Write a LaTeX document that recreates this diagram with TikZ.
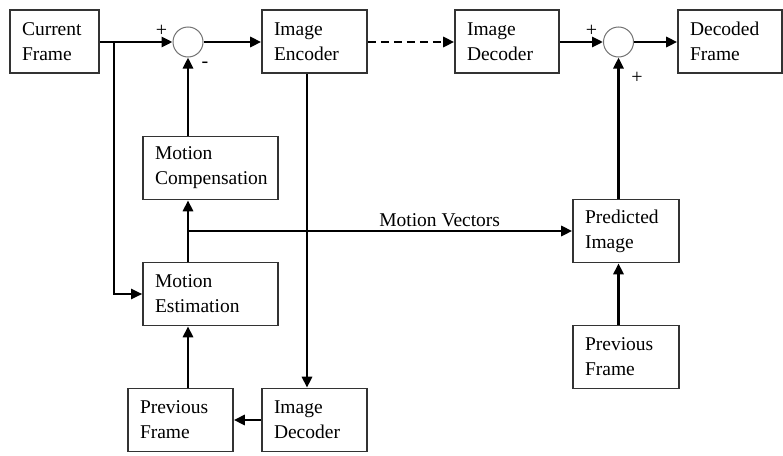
\documentclass[tikz,border=0pt]{standalone}
\usepackage{fontspec}
\setmainfont{Liberation Serif}
\usetikzlibrary{arrows.meta}
\begin{document}
\begin{tikzpicture}[x=1pt,y=-1pt,
  blk/.style={draw=black!80, line width=1.6pt, fill=white, minimum height=63pt,
    inner xsep=12pt, inner ysep=0pt, align=left, text width=#1,
    font=\fontsize{19.5}{25}\selectfont},
  sumc/.style={draw=black!55, line width=1pt, circle, minimum size=30pt, inner sep=0pt, fill=white},
  conn/.style={line width=2.8pt, -{Triangle[length=11pt,width=10pt]}},
  sgn/.style={font=\fontsize{20}{20}\selectfont, inner sep=0pt}]
\useasboundingbox (0,0) rectangle (783,455);
% blocks
\node[blk=65pt] (cf) at (54.5,41.5) {Current\\Frame};
\node[sumc] (s1) at (188,42) {};
\node[blk=81pt] (ie) at (314.5,41.5) {Image\\Encoder};
\node[blk=80pt] (idt) at (507,41.5) {Image\\Decoder};
\node[sumc] (s2) at (618.5,42) {};
\node[blk=80pt] (df) at (730,41.5) {Decoded\\Frame};
\node[blk=111pt] (mc) at (210.5,168) {Motion\\Compensation};
\node[blk=111pt] (me) at (210.5,294) {Motion\\Estimation};
\node[blk=81pt] (pfl) at (180.5,420) {Previous\\Frame};
\node[blk=81pt] (idb) at (314.5,420) {Image\\Decoder};
\node[blk=82pt] (pi) at (626,231) {Predicted\\Image};
\node[blk=82pt] (pfr) at (626,357) {Previous\\Frame};
% helper coordinates
\coordinate (br) at (114,42);
\coordinate (encx) at (307,0);
\coordinate (mv) at (s1 |- pi.west);
% connectors
\draw[conn] (cf.east |- s1) -- (s1.west);
\draw[line width=2.2pt, -{Triangle[length=11pt,width=10pt]}] (br) |- (me.west);
\draw[conn] (s1.east) -- (ie.west |- s1);
\draw[conn, dashed, dash pattern=on 8pt off 5pt] (ie.east |- s1) -- (idt.west |- s1);
\draw[conn] (idt.east |- s2) -- (s2.west);
\draw[conn] (s2.east) -- (df.west |- s2);
\draw[conn] (mc.north -| s1) -- (s1.south);
\draw[conn] (me.north -| s1) -- (mc.south -| s1);
\draw[conn] (mv) -- node[pos=0.655, above=3pt, font=\fontsize{19.5}{25}\selectfont, inner sep=0pt] (mvl) {Motion Vectors} (pi.west);
\draw[conn] (ie.south -| encx) -- (idb.north -| encx);
\draw[conn] (idb.west) -- (pfl.east);
\draw[conn] (pfl.north -| s1) -- (me.south -| s1);
\draw[conn] (pfr.north -| s2) -- (pi.south -| s2);
\draw[conn] (pi.north -| s2) -- (s2.south);
% signs
\node[sgn] (p1) at (161.5,31) {+};
\node[sgn] (m1) at (205,65) {-};
\node[sgn] (p2) at (591.5,31) {+};
\node[sgn] (p3) at (637,78) {+};
\end{tikzpicture}
\end{document}
